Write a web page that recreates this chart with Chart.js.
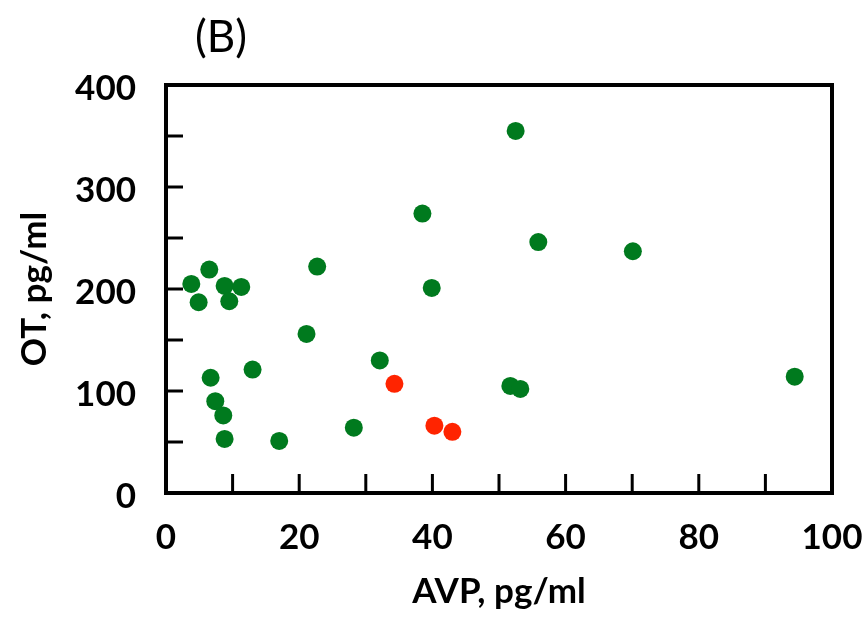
<!DOCTYPE html>
<html>
<head>
<meta charset="utf-8">
<script src="https://cdn.jsdelivr.net/npm/chart.js@4.4.1/dist/chart.umd.min.js"></script>
<style>
  html, body { margin: 0; padding: 0; background: #fff; }
  #wrap { width: 866px; height: 620px; position: relative; }
</style>
</head>
<body>
<div id="wrap"><canvas id="scatterChart"></canvas></div>
<script>
// AVP vs OT values
const greenAVP = [3.8, 6.5, 8.8, 11.3, 4.9, 9.5, 21.1, 13.0, 6.7, 7.4, 8.6, 8.8, 17.0,
                  38.5, 22.7, 39.9, 32.1, 28.2, 52.5, 55.9, 70.1, 51.7, 53.2, 94.4];
const greenOT  = [205, 219, 203, 202, 187, 188, 156, 121, 113, 90, 76, 53, 51,
                  274, 222, 201, 130, 64, 355, 246, 237, 105, 102, 114];
const redAVP = [34.3, 40.3, 43.0];
const redOT  = [107, 66, 60];

const xTickValues = [0, 10, 20, 30, 40, 50, 60, 70, 80, 90, 100];
const yTickValues = [0, 50, 100, 150, 200, 250, 300, 350, 400];

function toPoints(xs, ys) {
    return xs.map((x, i) => ({ x: x, y: ys[i] }));
}

const boldFont = { family: 'Lato', size: 35, weight: 'bold' };

// box frame, inward tick marks and the panel letter
const framePlugin = {
    id: 'frame',
    afterDraw(chart) {
        const ctx = chart.ctx;
        const a = chart.chartArea;
        const xs = chart.scales.x;
        const ys = chart.scales.y;
        ctx.save();
        ctx.strokeStyle = '#000';
        ctx.lineWidth = 3;
        xTickValues.forEach(v => {
            if (v === 0 || v === 100) return;
            const px = xs.getPixelForValue(v);
            ctx.beginPath();
            ctx.moveTo(px, a.bottom);
            ctx.lineTo(px, a.bottom - 19);
            ctx.stroke();
        });
        yTickValues.forEach(v => {
            if (v === 0 || v === 400) return;
            const py = ys.getPixelForValue(v);
            ctx.beginPath();
            ctx.moveTo(a.left, py);
            ctx.lineTo(a.left + 17, py);
            ctx.stroke();
        });
        ctx.lineWidth = 4;
        ctx.strokeRect(a.left, a.top, a.right - a.left, a.bottom - a.top);

        ctx.fillStyle = '#000';
        ctx.font = '44px Lato';
        ctx.textAlign = 'center';
        ctx.textBaseline = 'middle';
        ctx.fillText('(B)', 221, 38);
        ctx.restore();
    }
};

new Chart(document.getElementById('scatterChart'), {
    type: 'scatter',
    data: {
        datasets: [{
            label: 'green',
            data: toPoints(greenAVP, greenOT),
            backgroundColor: '#007a1e',
            borderWidth: 0,
            pointRadius: 9,
            pointHoverRadius: 9
        }, {
            label: 'red',
            data: toPoints(redAVP, redOT),
            backgroundColor: '#ff2400',
            borderWidth: 0,
            pointRadius: 9,
            pointHoverRadius: 9
        }]
    },
    options: {
        responsive: true,
        maintainAspectRatio: false,
        animation: false,
        layout: {
            padding: { left: 0, right: 34, top: 85, bottom: 0 }
        },
        plugins: {
            legend: { display: false },
            tooltip: { enabled: false }
        },
        scales: {
            x: {
                type: 'linear',
                min: 0,
                max: 100,
                afterBuildTicks(scale) {
                    scale.ticks = xTickValues.map(v => ({ value: v }));
                },
                afterFit(scale) {
                    scale.height = 127;
                    scale.paddingRight = 0;
                    scale.paddingLeft = 0;
                },
                ticks: {
                    color: '#000',
                    font: boldFont,
                    padding: 24,
                    maxRotation: 0,
                    autoSkip: false,
                    callback: v => (v % 20 === 0 ? v : '')
                },
                grid: { display: false, drawTicks: false },
                border: { display: false },
                title: {
                    display: true,
                    text: 'AVP, pg/ml',
                    color: '#000',
                    font: boldFont,
                    padding: { top: 0, bottom: 7 }
                }
            },
            y: {
                type: 'linear',
                min: 0,
                max: 400,
                afterBuildTicks(scale) {
                    scale.ticks = yTickValues.map(v => ({ value: v }));
                },
                afterFit(scale) {
                    scale.width = 166;
                    scale.paddingTop = 0;
                    scale.paddingBottom = 0;
                },
                ticks: {
                    color: '#000',
                    font: boldFont,
                    padding: 30,
                    labelOffset: 4,
                    autoSkip: false,
                    callback: v => (v % 100 === 0 ? v : '')
                },
                grid: { display: false, drawTicks: false },
                border: { display: false },
                title: {
                    display: true,
                    text: 'OT, pg/ml',
                    color: '#000',
                    font: boldFont,
                    padding: { top: 14, bottom: 0 }
                }
            }
        }
    },
    plugins: [framePlugin]
});
</script>
</body>
</html>
